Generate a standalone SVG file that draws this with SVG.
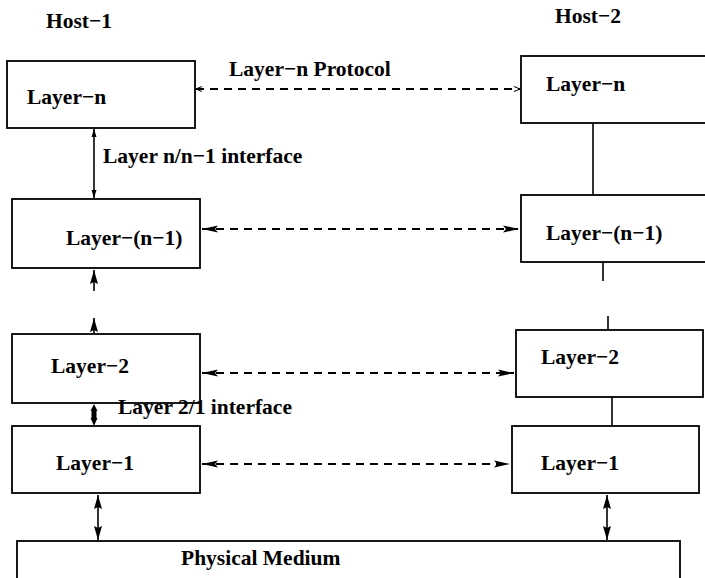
<svg xmlns="http://www.w3.org/2000/svg" width="705" height="578" viewBox="0 0 705 578">
<style>
text{font-family:'Liberation Serif','Times New Roman',Times,serif;font-weight:700;font-size:21.5px;fill:#000}
.box{fill:#fff;stroke:#000;stroke-width:1.8}
.ln{stroke:#000;stroke-width:1.6;fill:none}
.dash{stroke:#000;stroke-width:1.8;fill:none;stroke-dasharray:8 6}
</style>
<defs>
<marker id="fa" viewBox="0 0 16 9" refX="16" refY="4.5" markerWidth="16" markerHeight="9" markerUnits="userSpaceOnUse" orient="auto-start-reverse"><path d="M0,1 L16,4.5 L0,8 L3,4.5 Z" fill="#000"/></marker>
<marker id="oa" viewBox="0 0 6 6" refX="6" refY="3" markerWidth="6" markerHeight="6" markerUnits="userSpaceOnUse" orient="auto-start-reverse"><path d="M0,0.5 L6,3 L0,5.5" fill="none" stroke="#000" stroke-width="1"/></marker>
<marker id="sa" viewBox="0 0 8 6" refX="8" refY="3" markerWidth="8" markerHeight="6" markerUnits="userSpaceOnUse" orient="auto-start-reverse"><path d="M0,0.5 L8,3 L0,5.5 Z" fill="#000"/></marker>
<marker id="ma" viewBox="0 0 14 9" refX="14" refY="4.5" markerWidth="14" markerHeight="9" markerUnits="userSpaceOnUse" orient="auto-start-reverse"><path d="M0,0.5 L14,4.5 L0,8.5 L2,4.5 Z" fill="#000"/></marker>
</defs>
<text x="46" y="28">Host−1</text>
<text x="555" y="23">Host−2</text>
<g id="h1-layer-n"><rect class="box" x="7" y="61" width="188" height="67"/><text x="27" y="104">Layer−n</text></g>
<g id="h1-layer-n1"><rect class="box" x="12" y="199" width="188" height="69"/><text x="66" y="245">Layer−(n−1)</text></g>
<g id="h1-layer-2"><rect class="box" x="12" y="334" width="188" height="69"/><text x="51" y="373">Layer−2</text></g>
<g id="h1-layer-1"><rect class="box" x="12" y="426" width="188" height="67"/><text x="56" y="470">Layer−1</text></g>
<g id="h2-layer-n"><rect class="box" x="521" y="56" width="200" height="67"/><text x="546" y="91">Layer−n</text></g>
<g id="h2-layer-n1"><rect class="box" x="521" y="195" width="200" height="67"/><text x="546" y="240">Layer−(n−1)</text></g>
<g id="h2-layer-2"><rect class="box" x="516" y="330" width="187" height="67"/><text x="541" y="364">Layer−2</text></g>
<g id="h2-layer-1"><rect class="box" x="512" y="426" width="187" height="67"/><text x="541" y="470">Layer−1</text></g>
<g id="physical"><rect class="box" x="17" y="541" width="663" height="60"/><text x="181" y="565">Physical Medium</text></g>
<g id="connectors">
<line class="dash" x1="196" y1="89" x2="520" y2="89" marker-start="url(#oa)" marker-end="url(#oa)"/>
<line class="dash" x1="202" y1="229" x2="519" y2="229" marker-start="url(#fa)" marker-end="url(#fa)"/>
<line class="dash" x1="202" y1="373" x2="514" y2="373" marker-start="url(#fa)" marker-end="url(#fa)"/>
<line class="dash" x1="202" y1="464" x2="510" y2="464" marker-start="url(#fa)" marker-end="url(#fa)"/>
<line class="ln" x1="94" y1="129" x2="94" y2="198" marker-start="url(#sa)" marker-end="url(#sa)"/>
<line class="ln" x1="94" y1="270" x2="94" y2="291" marker-start="url(#ma)"/>
<line class="ln" x1="94" y1="318" x2="94" y2="333" marker-start="url(#ma)"/>
<path d="M94,404 L97.5,411 L90.5,411 Z M94,426 L97.5,418 L90.5,418 Z M91.5,411 L96.5,411 L96.5,418 L91.5,418 Z" fill="#000"/>
<line class="ln" x1="98" y1="495" x2="98" y2="540" marker-start="url(#ma)" marker-end="url(#ma)"/>
<line class="ln" x1="607" y1="495" x2="607" y2="540" marker-start="url(#ma)" marker-end="url(#ma)"/>
<line class="ln" x1="593" y1="123" x2="593" y2="195"/>
<line class="ln" x1="603" y1="262" x2="603" y2="281"/>
<line class="ln" x1="608" y1="316" x2="608" y2="330"/>
<line class="ln" x1="612" y1="397" x2="612" y2="426"/>
</g>
<text x="229" y="76">Layer−n Protocol</text>
<text x="103" y="163">Layer n/n−1 interface</text>
<text x="118" y="414">Layer 2/1 interface</text>
</svg>
